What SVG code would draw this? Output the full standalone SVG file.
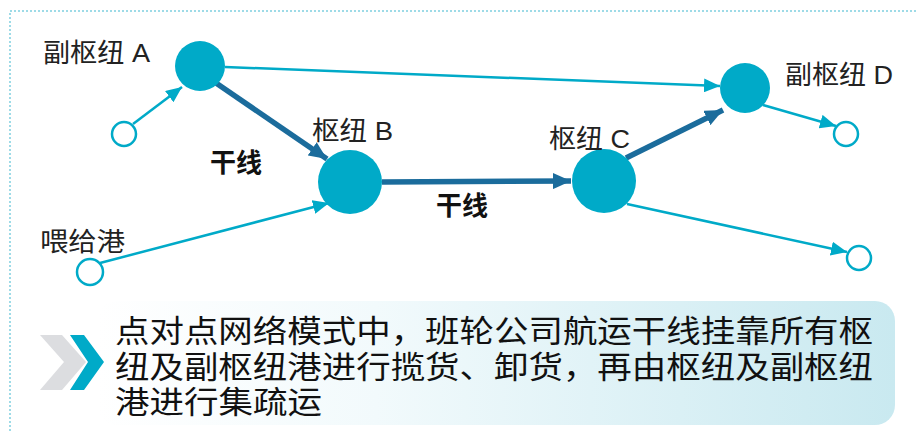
<svg xmlns="http://www.w3.org/2000/svg" width="918" height="431" viewBox="0 0 918 431">
<style>
.lbl{font-family:"Liberation Sans","Noto Sans CJK SC",sans-serif;font-size:26px;fill:#222}
.trunk{font-family:"Noto Sans CJK SC",sans-serif;font-size:26px;font-weight:bold;fill:#111}
.body{font-family:"Liberation Sans","Noto Sans CJK SC",sans-serif;font-size:31px;fill:#111}
.hub{fill:#00AAC8}
.port{fill:#fff;stroke:#00AAC8;stroke-width:2.5}
.thin{stroke:#00AAC8;stroke-width:2.5;fill:none;marker-end:url(#ah)}
.thick{stroke:#1B6C9C;stroke-width:5.5;fill:none;marker-end:url(#ahd)}
</style>
<defs>
<marker id="ah" markerUnits="userSpaceOnUse" markerWidth="16" markerHeight="14" refX="16" refY="7" orient="auto"><path d="M0,0 L16,7 L0,14 Z" fill="#00AAC8"/></marker>
<marker id="ahd" markerUnits="userSpaceOnUse" markerWidth="18" markerHeight="16" refX="18" refY="8" orient="auto"><path d="M0,0 L18,8 L0,16 Z" fill="#1B6C9C"/></marker>
<linearGradient id="bg" x1="0" y1="0" x2="1" y2="0"><stop offset="0" stop-color="#ffffff"/><stop offset="0.35" stop-color="#f2fafc"/><stop offset="1" stop-color="#c9e9f0"/></linearGradient>
</defs>
<path d="M10,431 V11 H918" fill="none" stroke="#7FCFE0" stroke-width="1.5" stroke-dasharray="2,2"/>
<g id="connectors">
<line class="thin" x1="133" y1="124" x2="182" y2="87"/>
<line class="thin" x1="225" y1="67" x2="720" y2="86"/>
<line class="thick" x1="216" y1="83" x2="327" y2="159"/>
<line class="thin" x1="100" y1="263" x2="329" y2="203"/>
<line class="thick" x1="382" y1="182" x2="571" y2="181"/>
<line class="thick" x1="626" y1="158" x2="723" y2="110"/>
<line class="thin" x1="763" y1="105" x2="836" y2="126"/>
<line class="thin" x1="627" y1="204" x2="847" y2="252"/>
</g>
<g id="nodeA"><circle class="hub" cx="200" cy="66" r="25"/><text class="lbl" x="43" y="62" textLength="107" lengthAdjust="spacingAndGlyphs">副枢纽 A</text></g>
<g id="nodeB"><circle class="hub" cx="350" cy="182" r="32"/><text class="lbl" x="312" y="140" textLength="81" lengthAdjust="spacingAndGlyphs">枢纽 B</text></g>
<g id="nodeC"><circle class="hub" cx="604" cy="181" r="32"/><text class="lbl" x="549" y="148" textLength="81" lengthAdjust="spacingAndGlyphs">枢纽 C</text></g>
<g id="nodeD"><circle class="hub" cx="745" cy="88" r="25"/><text class="lbl" x="785" y="84" textLength="108" lengthAdjust="spacingAndGlyphs">副枢纽 D</text></g>
<g id="portA"><circle class="port" cx="124" cy="134" r="12"/></g>
<g id="feeder"><circle class="port" cx="90" cy="272" r="13"/><text class="lbl" x="40" y="251" textLength="85" lengthAdjust="spacingAndGlyphs">喂给港</text></g>
<g id="portD"><circle class="port" cx="846" cy="134" r="12"/></g>
<g id="portC"><circle class="port" cx="859" cy="258" r="12"/></g>
<g id="trunk1"><text class="trunk" x="210" y="172">干线</text></g>
<g id="trunk2"><text class="trunk" x="436" y="215">干线</text></g>
<g id="note">
<rect x="97" y="301" width="798" height="124" rx="20" fill="url(#bg)"/>
<path d="M40,335 L62,335 L86,362 L62,390 L40,390 L64,362 Z" fill="#DCDDE0"/>
<path d="M70,335 L84,335 L104,362 L84,390 L70,390 L88,362 Z" fill="#00AAC8"/>
<text class="body" x="115" y="342" textLength="758" lengthAdjust="spacingAndGlyphs">点对点网络模式中，班轮公司航运干线挂靠所有枢</text>
<text class="body" x="115" y="378" textLength="758" lengthAdjust="spacingAndGlyphs">纽及副枢纽港进行揽货、卸货，再由枢纽及副枢纽</text>
<text class="body" x="115" y="413" textLength="207" lengthAdjust="spacingAndGlyphs">港进行集疏运</text>
</g>
</svg>
